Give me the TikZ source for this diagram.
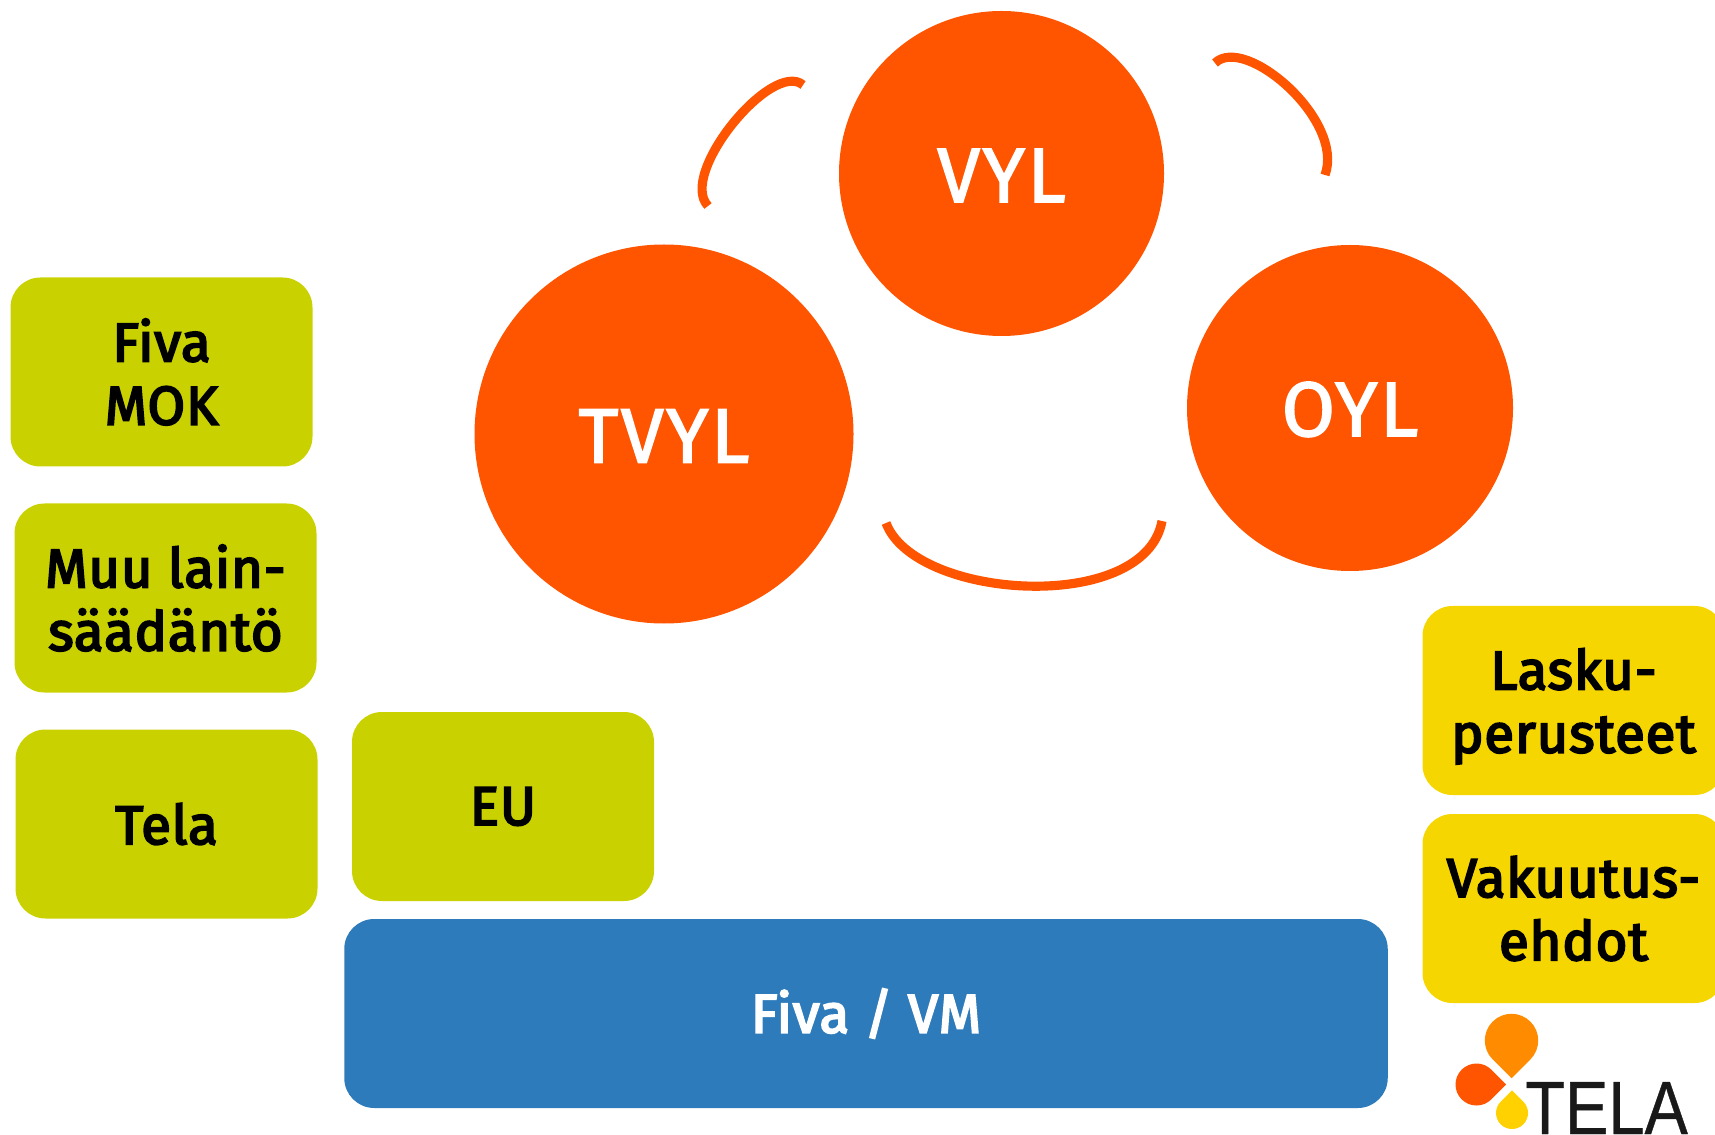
\documentclass[tikz,border=0pt]{standalone}
\usepackage{fontspec}
\setmainfont[LetterSpace=1]{Fira Sans}
\newfontfamily\circlefont[LetterSpace=3,FakeBold=2]{Fira Sans}
\newfontfamily\boxfont[LetterSpace=1.5,FakeBold=3.6]{Fira Sans}
\newfontfamily\logofont[FakeBold=0.6]{Liberation Sans}
\definecolor{telaorange}{HTML}{FF5500}
\definecolor{telaamber}{HTML}{FF8C00}
\definecolor{telaolive}{HTML}{C9D200}
\definecolor{telayellow}{HTML}{F6D600}
\definecolor{telablue}{HTML}{2E7BBB}
\definecolor{telagold}{HTML}{FFD100}
\tikzset{
  bigcircle/.style={circle, fill=telaorange, text=white, inner sep=0pt, text height=32.5pt, font=\circlefont\fontsize{44}{50}\selectfont},
  rulebox/.style={rounded corners=0.6cm, minimum width=6.04cm, minimum height=3.78cm, align=center, inner sep=0pt, font=\boxfont\fontsize{31}{36}\selectfont},
  arcline/.style={telaorange, line width=5.2pt}
}
\begin{document}
\begin{tikzpicture}
                \useasboundingbox (0, 0) rectangle (34.3, 22.68);
                % Circles
                \node [bigcircle, minimum size=6.5cm] (vyl) at (20.03, 19.21) {VYL};
                \node [bigcircle, minimum size=7.58cm] (tvyl) at (13.28, 14.0) {TVYL};
                \node [bigcircle, minimum size=6.52cm] (oyl) at (27.0, 14.52) {OYL};
                % Arcs
                \coordinate (tvylend) at (14.16, 18.56);
                \coordinate (vylleft) at (16.06, 20.98);
                \coordinate (vylright) at (24.3, 21.42);
                \coordinate (oyltop) at (26.5, 19.18);
                \coordinate (tvylbottom) at (17.72, 12.22);
                \coordinate (oylbottom) at (23.24, 12.26);
                \draw [arcline] (tvylend) .. controls (13.55, 19.2) and (15.45, 21.5) .. (vylleft);
                \draw [arcline] (vylright) .. controls (24.9, 22.0) and (26.9, 20.28) .. (oyltop);
                \draw [arcline] (tvylbottom) .. controls (18.3, 10.68) and (22.9, 10.38) .. (oylbottom);
                % Green boxes
                \node [rulebox, fill=telaolive] (mok) at (3.23, 15.24) {Fiva\\MOK};
                \node [rulebox, fill=telaolive] (muu) at (3.31, 10.72) {Muu lain-\\säädäntö};
                \node [rulebox, fill=telaolive] (tela) at (3.33, 6.2) {Tela};
                \node [rulebox, fill=telaolive] (eu) at (10.06, 6.55) {EU};
                % Blue box
                \node [rulebox, fill=telablue, text=white, minimum width=20.87cm] (fiva) at (17.32, 2.41) {Fiva / VM};
                % Yellow boxes
                \node [rulebox, fill=telayellow] (lasku) at (31.47, 8.67) {Lasku-\\\smash{perusteet}};
                \node [rulebox, fill=telayellow] (ehdot) at (31.47, 4.51) {Vakuutus-\\ehdot};
                % Logo
                \fill [telaamber, shift={(30.23, 1.87)}, scale=0.534] (0, -1.414) -- (0.707, -0.707) arc (-45:225:1) -- cycle;
                \fill [telaorange, shift={(29.53, 0.99)}, rotate=90, scale=0.42] (0, -1.414) -- (0.707, -0.707) arc (-45:225:1) -- cycle;
                \fill [telagold, shift={(30.24, 0.42)}, rotate=180, scale=0.32] (0, -1.414) -- (0.707, -0.707) arc (-45:225:1) -- cycle;
                \node [anchor=base west, inner sep=0pt, text=black!90, xscale=0.86, font=\logofont\fontsize{43}{43}\selectfont] (logo) at (30.5, 0) {TELA};
            \end{tikzpicture}
\end{document}
